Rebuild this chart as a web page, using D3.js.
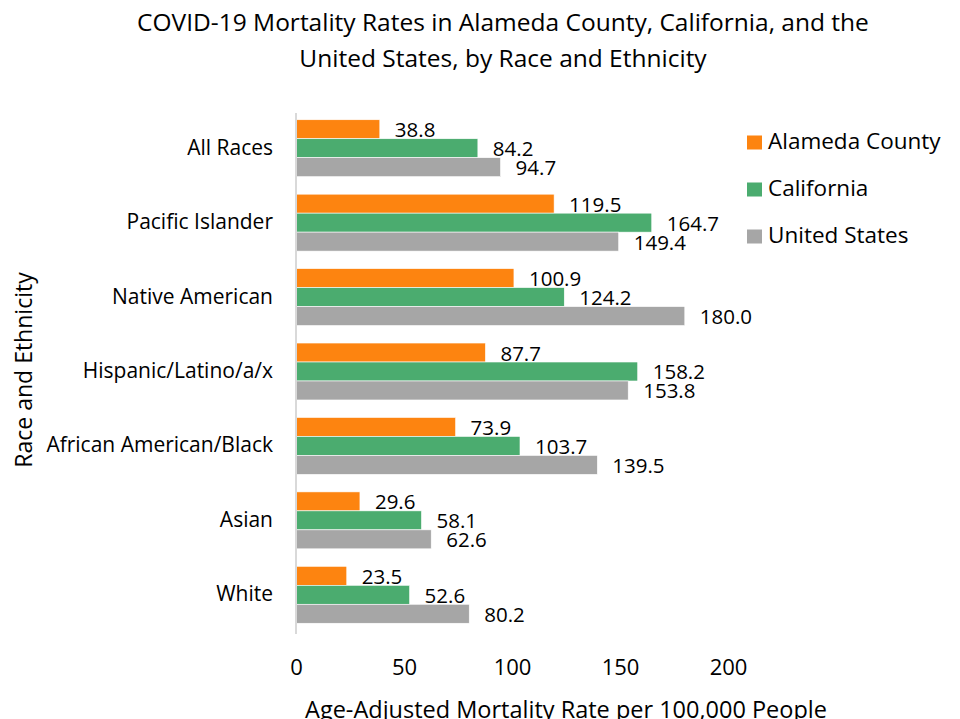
<!DOCTYPE html>
<html>
<head>
<meta charset="utf-8">
<script src="https://cdn.jsdelivr.net/npm/d3@7"></script>
<style>
  body { margin: 0; background: #fff; }
  svg { display: block; font-family: "Open Sans", "Noto Sans", sans-serif; }
</style>
</head>
<body>
<div id="chart"></div>
<script>
// ── Data ──
const categories = ["All Races", "Pacific Islander", "Native American", "Hispanic/Latino/a/x",
                    "African American/Black", "Asian", "White"];
const seriesNames = ["Alameda County", "California", "United States"];
const alameda = [38.8, 119.5, 100.9, 87.7, 73.9, 29.6, 23.5];
const california = [84.2, 164.7, 124.2, 158.2, 103.7, 58.1, 52.6];
const unitedStates = [94.7, 149.4, 180.0, 153.8, 139.5, 62.6, 80.2];
const xTicks = [0, 50, 100, 150, 200];

const colors = ["#FD8410", "#4BAC6F", "#A6A6A6"];
const seriesValues = [alameda, california, unitedStates];

const WIDTH = 960;
const HEIGHT = 719;
const FONT = "\"Open Sans\", \"Noto Sans\", sans-serif";

const svg = d3.select("#chart").append("svg")
    .attr("width", WIDTH)
    .attr("height", HEIGHT);

// ── Scales ──
const x = d3.scaleLinear().domain([0, 200]).range([296, 728]);
const y = d3.scaleBand().domain(categories).range([111, 632])
    .paddingInner(0.235).paddingOuter(0.1175);
const ySub = d3.scaleBand().domain(seriesNames).range([0, y.bandwidth()]);

// ── Title ──
svg.append("text")
    .attr("x", 503).attr("y", 31)
    .attr("text-anchor", "middle")
    .attr("font-size", 24.5)
    .attr("fill", "#000")
    .selectAll("tspan")
    .data(["COVID-19 Mortality Rates in Alameda County, California, and the",
           "United States, by Race and Ethnicity"])
    .join("tspan")
    .attr("x", 503)
    .attr("dy", (d, i) => i === 0 ? 0 : 35.5)
    .text(d => d);

// ── Bars ──
const rows = categories.map((c, i) => ({
    category: c,
    values: seriesNames.map((s, j) => ({ series: s, value: seriesValues[j][i], idx: j }))
}));

const groups = svg.append("g").selectAll("g")
    .data(rows)
    .join("g")
    .attr("transform", d => `translate(0,${y(d.category)})`);

groups.selectAll("rect")
    .data(d => d.values)
    .join("rect")
    .attr("x", x(0))
    .attr("y", d => ySub(d.series))
    .attr("width", d => x(d.value) - x(0))
    .attr("height", ySub.bandwidth())
    .attr("fill", d => colors[d.idx])
    .attr("stroke", "#fff")
    .attr("stroke-width", 0.6);

groups.selectAll("text")
    .data(d => d.values)
    .join("text")
    .attr("x", d => x(d.value) + 15)
    .attr("y", d => ySub(d.series) + ySub.bandwidth() / 2 + 8)
    .attr("font-size", 20.5)
    .attr("fill", "#000")
    .text(d => d.value.toFixed(1));

// ── Y axis line + category labels ──
svg.append("line")
    .attr("x1", x(0)).attr("x2", x(0))
    .attr("y1", 113).attr("y2", 634)
    .attr("stroke", "#D9D9D9")
    .attr("stroke-width", 2);

svg.append("g").selectAll("text")
    .data(categories)
    .join("text")
    .attr("x", 273)
    .attr("y", d => y(d) + y.bandwidth() / 2 + 6.5)
    .attr("text-anchor", "end")
    .attr("font-size", 21)
    .attr("fill", "#000")
    .text(d => d);

// ── X axis tick labels ──
const xAxis = d3.axisBottom(x).tickValues(xTicks).tickSize(0).tickPadding(0);
const xg = svg.append("g").attr("transform", "translate(0,659)").call(xAxis);
xg.select(".domain").remove();
xg.selectAll("text")
    .attr("font-family", FONT)
    .attr("font-size", 22)
    .attr("fill", "#000");

// ── Axis titles ──
svg.append("text")
    .attr("x", 566).attr("y", 718)
    .attr("text-anchor", "middle")
    .attr("font-size", 23.5)
    .attr("fill", "#000")
    .text("Age-Adjusted Mortality Rate per 100,000 People");

svg.append("text")
    .attr("transform", "translate(32,370) rotate(-90)")
    .attr("text-anchor", "middle")
    .attr("font-size", 23)
    .attr("fill", "#000")
    .text("Race and Ethnicity");

// ── Legend ──
const legend = svg.append("g").selectAll("g")
    .data(seriesNames)
    .join("g")
    .attr("transform", (d, i) => `translate(747,${149 + i * 47})`);

legend.append("rect")
    .attr("x", 0).attr("y", -13.5)
    .attr("width", 15).attr("height", 14)
    .attr("fill", (d, i) => colors[i]);

legend.append("text")
    .attr("x", 21).attr("y", 0)
    .attr("font-size", 22.5)
    .attr("fill", "#000")
    .text(d => d);
</script>
</body>
</html>
